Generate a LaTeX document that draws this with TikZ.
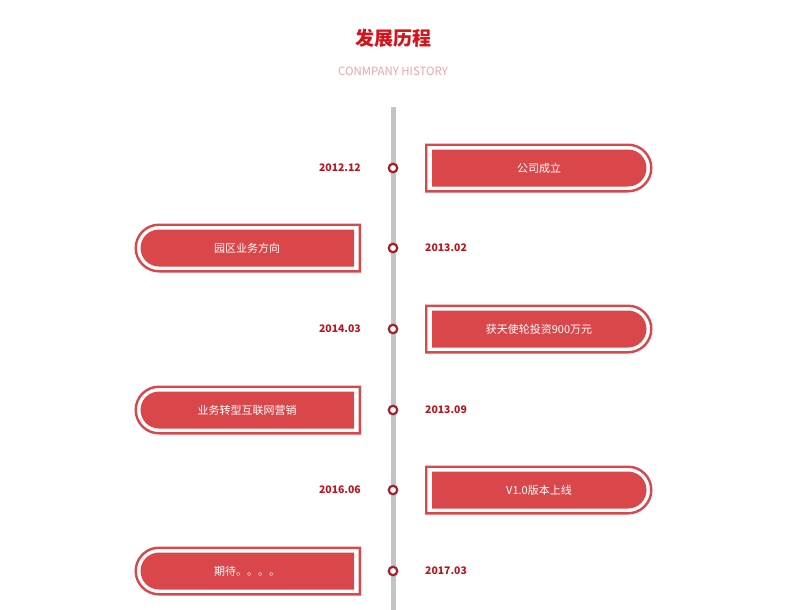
\documentclass[tikz,border=0pt]{standalone}
\usepackage{fontspec}
\setmainfont{Noto Sans CJK SC}
\definecolor{boxred}{HTML}{D9474A}
\definecolor{datered}{HTML}{B8161E}
\definecolor{titlered}{HTML}{D4141C}
\definecolor{subpink}{HTML}{EBA3A8}
\definecolor{linegray}{HTML}{C4C4C4}
\definecolor{dotred}{HTML}{A3202A}

\begin{document}
\begin{tikzpicture}[x=1pt,y=-1pt,
		datelbl/.style={font=\bfseries\fontsize{10.4}{12}\selectfont,text=datered},
		boxlbl/.style={font=\fontsize{11}{12}\selectfont,text=white},
		outline/.style={draw=boxred,line width=2.4pt,fill=white},
		innerbox/.style={fill=boxred},
		dot/.style={circle,draw=dotred,line width=2.2pt,fill=white,minimum size=8.5pt}]
		\tikzstyle{every node}+=[inner sep=0pt]
		\useasboundingbox (0,0) rectangle (800,610);
		\node [font=\bfseries\fontsize{19}{20}\selectfont,text=titlered] (title) at (393,38) {发展历程};
		\node [font=\fontsize{11.4}{12}\selectfont,text=subpink] (subtitle) at (393,71) {CONMPANY HISTORY};
		\coordinate (top) at (393,107);
		\coordinate (bottom) at (393,610);
		\draw [linegray,line width=5pt] (top) -- (bottom);
		\foreach \i/\yy/\dt/\txt in {1/168/2012.12/公司成立,3/329/2014.03/获天使轮投资900万元,5/490/2016.06/V1.0版本上线}{
			\draw [outline] (426.2,\yy-23.3) -- (628,\yy-23.3) arc (-90:90:23.3) -- (426.2,\yy+23.3) -- cycle;
			\fill [innerbox] (432,\yy-18.5) -- (628,\yy-18.5) arc (-90:90:18.5) -- (432,\yy+18.5) -- cycle;
			\node [boxlbl] (box\i) at (539,\yy) {\txt};
			\node [datelbl,anchor=east] (date\i) at (361,\yy) {\dt};
			\node [dot] (dot\i) at (393,\yy) {};
		}
		\foreach \i/\yy/\dt/\txt in {2/248/2013.02/园区业务方向,4/410/2013.09/业务转型互联网营销,6/571/2017.03/期待。。。。}{
			\draw [outline] (359.8,\yy-23.3) -- (159,\yy-23.3) arc (270:90:23.3) -- (359.8,\yy+23.3) -- cycle;
			\fill [innerbox] (354,\yy-18.5) -- (159,\yy-18.5) arc (270:90:18.5) -- (354,\yy+18.5) -- cycle;
			\node [boxlbl] (box\i) at (247,\yy) {\txt};
			\node [datelbl,anchor=west] (date\i) at (425,\yy) {\dt};
			\node [dot] (dot\i) at (393,\yy) {};
		}
\end{tikzpicture}
\end{document}
